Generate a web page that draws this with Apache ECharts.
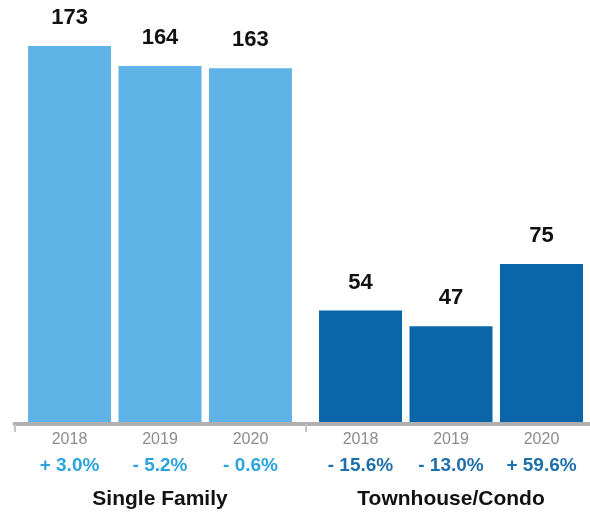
<!DOCTYPE html>
<html>
<head>
<meta charset="utf-8">
<script src="https://cdn.jsdelivr.net/npm/echarts@6/dist/echarts.min.js"></script>
<style>
  html, body { margin: 0; padding: 0; background: #fff; }
  #chart { width: 590px; height: 513px; }
</style>
</head>
<body>
<div id="chart"></div>
<script>
// Home sales by property type, three years each
const groups = ['Single Family', 'Townhouse/Condo'];
const years = ['2018', '2019', '2020'];
const singleFamily = [173, 164, 163];
const townhouseCondo = [54, 47, 75];
const singleFamilyChange = ['+ 3.0%', '- 5.2%', '- 0.6%'];
const townhouseCondoChange = ['- 15.6%', '- 13.0%', '+ 59.6%'];

const groupColors = ['#5fb3e6', '#0a66a8'];
const changeColors = ['#2aa3de', '#1f6fab'];
const FONT = '"Liberation Sans", Arial, Helvetica, sans-serif';

const groupValues = [singleFamily, townhouseCondo];
const groupChanges = [singleFamilyChange, townhouseCondoChange];

const series = years.map((yr, i) => ({
  name: yr,
  type: 'bar',
  barWidth: 83,
  barGap: '9%',
  barCategoryGap: '9%',
  data: groups.map((g, gi) => ({
    value: groupValues[gi][i],
    itemStyle: { color: groupColors[gi] }
  })),
  label: {
    show: true,
    position: 'top',
    distance: 17,
    color: '#111',
    fontFamily: FONT,
    fontWeight: 'bold',
    fontSize: 22
  }
}));

const chart = echarts.init(document.getElementById('chart'));
chart.setOption({
  animation: false,
  backgroundColor: '#fff',
  grid: { left: 14.5, width: 582, top: 46, bottom: 89, outerBoundsMode: 'none', containLabel: false },
  xAxis: {
    type: 'category',
    data: groups,
    z: 10,
    axisLine: { lineStyle: { color: '#b0b0b0', width: 4 } },
    axisTick: { show: true, length: 8, lineStyle: { color: '#c4c4c4', width: 2 } },
    axisLabel: {
      margin: 5,
      interval: 0,
      fontFamily: FONT,
      formatter: (name) => {
        const gi = groups.indexOf(name);
        const yrs = years.map(y => '{y|' + y + '}').join('');
        const pst = gi === 0 ? 'a' : 'b';
        const chg = groupChanges[gi].map(c => '{' + pst + '|' + c + '}').join('');
        return yrs + '\n' + chg + '\n{g|' + name + '}';
      },
      rich: {
        y: { width: 90.5, align: 'center', fontSize: 16, color: '#8c8c8c', lineHeight: 22, fontFamily: FONT },
        a: { width: 90.5, align: 'center', fontSize: 19, fontWeight: 'bold', color: changeColors[0], lineHeight: 30, fontFamily: FONT },
        b: { width: 90.5, align: 'center', fontSize: 19, fontWeight: 'bold', color: changeColors[1], lineHeight: 30, fontFamily: FONT },
        g: { fontSize: 21, fontWeight: 'bold', color: '#111', lineHeight: 36, fontFamily: FONT }
      }
    }
  },
  yAxis: {
    type: 'value',
    min: 3,
    max: 173,
    show: false,
    splitLine: { show: false }
  },
  series: series
});
</script>
</body>
</html>
